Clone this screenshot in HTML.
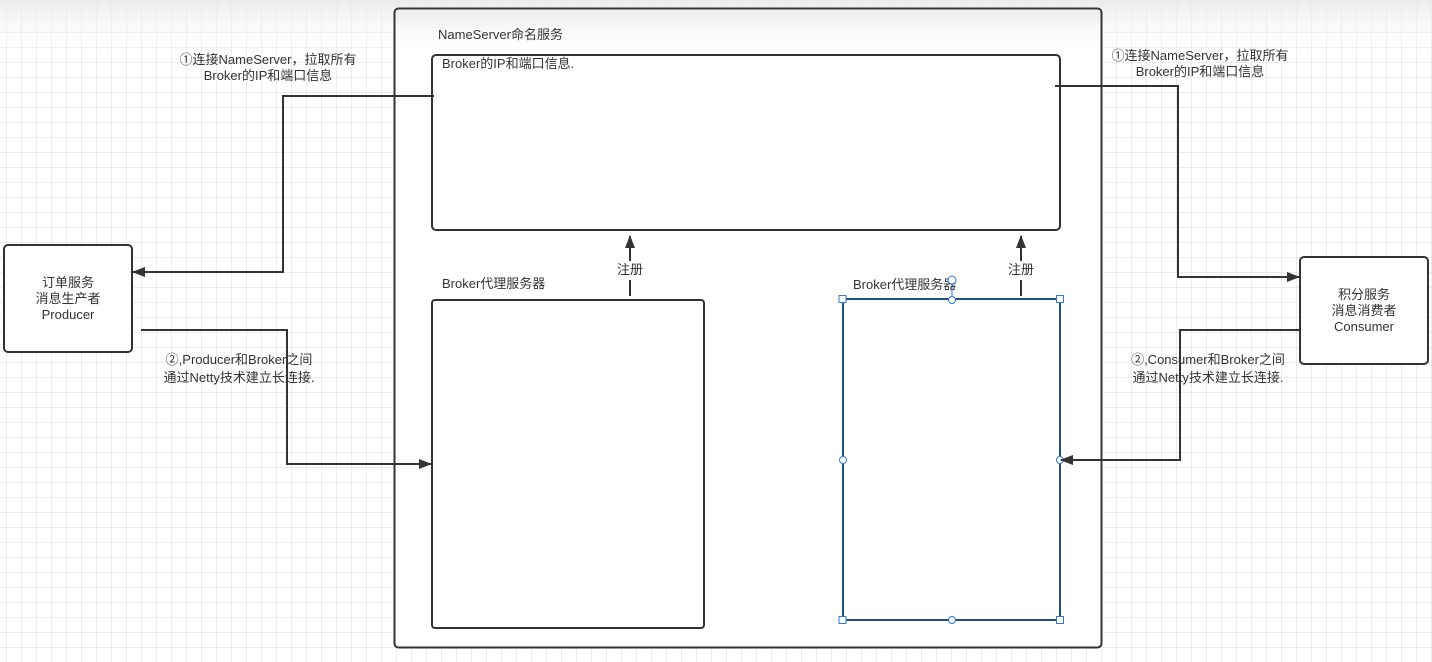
<!DOCTYPE html>
<html><head><meta charset="utf-8"><style>
html,body{margin:0;padding:0;width:1432px;height:662px;overflow:hidden;background:#fff}
text{font-family:"Liberation Sans","Noto Sans CJK SC",sans-serif;font-size:13px;fill:#333}
</style></head><body>
<svg width="1432" height="662" xmlns="http://www.w3.org/2000/svg">
<defs>
<pattern id="g" width="15" height="15" patternUnits="userSpaceOnUse" x="7" y="3">
<path d="M15 0V15M0 15H15" fill="none" stroke="#dadada" stroke-width="1"/>
</pattern>
<linearGradient id="tg" x1="0" y1="0" x2="0" y2="1">
<stop offset="0" stop-color="#e8e8e8" stop-opacity="0.8"/>
<stop offset="1" stop-color="#fff" stop-opacity="0"/>
</linearGradient>
<marker id="a" markerWidth="13" markerHeight="10" refX="12" refY="5" orient="auto" markerUnits="userSpaceOnUse">
<path d="M0 0L13 5L0 10z" fill="#333"/>
</marker>
</defs>
<rect width="1432" height="662" fill="url(#g)"/>
<rect width="1432" height="60" fill="url(#tg)"/>
<rect x="394.5" y="8.5" width="707" height="639" rx="4" fill="#fff" stroke="#333" stroke-width="2"/>
<rect x="396" y="10" width="704" height="50" fill="url(#tg)"/>
<text x="438" y="39">NameServer命名服务</text>
<rect x="432" y="55" width="628" height="175" rx="4" fill="#fff" stroke="#333" stroke-width="2"/>
<text x="442" y="68">Broker的IP和端口信息.</text>
<text x="442" y="288">Broker代理服务器</text>
<rect x="432" y="300" width="272" height="328" rx="3" fill="#fff" stroke="#333" stroke-width="2"/>
<text x="853" y="289">Broker代理服务器</text>
<rect x="843" y="299" width="217" height="321" fill="#fff" stroke="#1f4f8a" stroke-width="2"/>
<g fill="#fff" stroke="#2d7bd0" stroke-width="1">
<rect x="839" y="295.5" width="7" height="7"/><rect x="1056.5" y="295.5" width="7" height="7"/>
<rect x="839" y="616.5" width="7" height="7"/><rect x="1056.5" y="616.5" width="7" height="7"/>
<circle cx="952" cy="300" r="3.5"/><circle cx="952" cy="620" r="3.5"/>
<circle cx="843" cy="460" r="3.5"/><circle cx="1060" cy="460" r="3.5"/>
<line x1="952" y1="284" x2="952" y2="296"/><circle cx="952" cy="280" r="4"/>
</g>
<g stroke="#333" stroke-width="2" fill="none">
<path d="M630 296V280M630 261V236" marker-end="url(#a)"/>
<path d="M1021 296V280M1021 261V236" marker-end="url(#a)"/>
</g>
<text x="617" y="274">注册</text>
<text x="1008" y="274">注册</text>
<rect x="4" y="245" width="128" height="107" rx="4" fill="#fff" stroke="#333" stroke-width="2"/>
<text x="68" y="287" text-anchor="middle">订单服务</text>
<text x="68" y="303" text-anchor="middle">消息生产者</text>
<text x="68" y="319" text-anchor="middle">Producer</text>
<rect x="1300" y="257" width="128" height="107" rx="4" fill="#fff" stroke="#333" stroke-width="2"/>
<text x="1364" y="299" text-anchor="middle">积分服务</text>
<text x="1364" y="315" text-anchor="middle">消息消费者</text>
<text x="1364" y="331" text-anchor="middle">Consumer</text>
<g stroke="#333" stroke-width="2" fill="none">
<path d="M434 96H283V272H133" marker-end="url(#a)"/>
<path d="M141 330H287V464H431" marker-end="url(#a)"/>
<path d="M1055 86H1178V277H1299" marker-end="url(#a)"/>
<path d="M1300 330H1180V460H1061" marker-end="url(#a)"/>
</g>
<text x="268" y="64" text-anchor="middle">①连接NameServer，拉取所有</text>
<text x="268" y="80" text-anchor="middle">Broker的IP和端口信息</text>
<text x="1200" y="60" text-anchor="middle">①连接NameServer，拉取所有</text>
<text x="1200" y="76" text-anchor="middle">Broker的IP和端口信息</text>
<text x="239" y="364" text-anchor="middle">②,Producer和Broker之间</text>
<text x="239" y="382" text-anchor="middle">通过Netty技术建立长连接.</text>
<text x="1208" y="364" text-anchor="middle">②,Consumer和Broker之间</text>
<text x="1208" y="382" text-anchor="middle">通过Netty技术建立长连接.</text>
</svg>
</body></html>
